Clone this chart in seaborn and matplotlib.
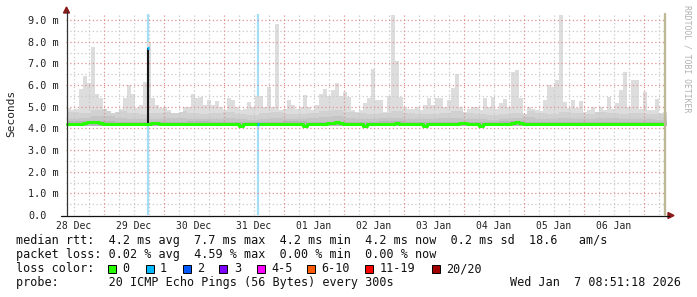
import numpy as np
import pandas as pd
import matplotlib
matplotlib.use("Agg")
import matplotlib.pyplot as plt
from matplotlib.patches import Rectangle, Polygon
from matplotlib.lines import Line2D
import seaborn as sns

# ---------------- data ----------------
day_labels = ["28 Dec", "29 Dec", "30 Dec", "31 Dec", "01 Jan",
              "02 Jan", "03 Jan", "04 Jan", "05 Jan", "06 Jan"]
ytick_values = [0, 1, 2, 3, 4, 5, 6, 7, 8, 9]
ytick_labels = ["0.0", "1.0 m", "2.0 m", "3.0 m", "4.0 m",
                "5.0 m", "6.0 m", "7.0 m", "8.0 m", "9.0 m"]

# smoke: highest ping per 1.6 h bucket (ms)
smoke_top = [
    4.95, 4.85, 4.90, 5.80, 6.40, 6.10, 7.75, 5.60, 5.40, 4.90,
    4.80, 4.70, 4.75, 4.90, 5.40, 6.00, 5.60, 4.95, 5.10, 6.15,
    8.00, 5.40, 5.10, 4.95, 5.00, 4.85, 4.70, 4.70, 4.75, 5.00,
    5.00, 5.60, 5.40, 5.45, 5.10, 5.30, 5.10, 5.25, 5.00, 4.85,
    5.40, 5.30, 5.00, 4.85, 4.90, 5.20, 5.00, 5.50, 5.50, 5.00,
    5.90, 5.00, 8.80, 4.85, 4.90, 5.30, 5.10, 4.90, 5.00, 5.55,
    5.00, 4.85, 5.10, 5.60, 5.80, 5.50, 5.75, 6.10, 5.50, 5.70,
    5.45, 4.85, 4.75, 4.85, 5.15, 5.40, 6.75, 5.30, 5.30, 4.75,
    5.50, 9.25, 7.10, 5.45, 5.00, 4.90, 4.90, 5.00, 4.85, 5.10,
    5.40, 5.10, 5.40, 5.40, 5.00, 5.30, 5.85, 6.50, 5.00, 4.75,
    4.90, 5.00, 5.00, 4.85, 5.40, 5.00, 5.45, 4.90, 5.15, 5.35,
    5.00, 6.60, 6.70, 5.40, 4.65, 5.00, 4.90, 4.85, 4.80, 5.30,
    6.00, 5.90, 6.25, 9.25, 5.20, 4.95, 5.30, 4.95, 5.25, 4.75,
    4.85, 5.00, 4.75, 5.00, 4.85, 5.45, 4.90, 5.15, 5.75, 6.60,
    5.00, 6.25, 6.25, 4.90, 5.70, 4.85, 4.85, 5.35, 4.70, 4.75,
]
# inner smoke layers (coarser buckets, 4.8 h / 9.6 h)
smoke_mid = [
    4.75, 4.70, 4.85, 4.95, 4.80, 4.70, 4.65, 4.70, 4.75, 4.80,
    4.72, 4.68, 4.70, 4.75, 4.65, 4.62, 4.70, 4.75, 4.68, 4.66,
    4.70, 4.80, 4.85, 4.75, 4.70, 4.66, 4.72, 4.78, 4.70, 4.65,
    4.68, 4.72, 4.78, 4.70, 4.65, 4.62, 4.66, 4.72, 4.80, 4.70,
    4.68, 4.74, 4.70, 4.66, 4.76, 4.72, 4.68, 4.70, 4.66, 4.64,
]
smoke_dark = [
    4.45, 4.50, 4.55, 4.58, 4.50, 4.45, 4.42, 4.45, 4.48, 4.50,
    4.45, 4.42, 4.44, 4.48, 4.42, 4.40, 4.45, 4.48, 4.44, 4.42,
    4.46, 4.52, 4.55, 4.48, 4.45, 4.42, 4.46, 4.50, 4.45, 4.42,
    4.44, 4.46, 4.50, 4.45, 4.42, 4.40, 4.42, 4.46, 4.52, 4.45,
    4.44, 4.48, 4.45, 4.42, 4.50, 4.46, 4.44, 4.45, 4.42, 4.40,
]
smoke_darkest = [
    4.32, 4.36, 4.30, 4.28, 4.30, 4.32, 4.30, 4.28, 4.31, 4.33,
    4.30, 4.29, 4.30, 4.32, 4.28, 4.30, 4.31, 4.29, 4.33, 4.30,
    4.28, 4.30, 4.31, 4.29, 4.30,
]
smoke_floor = 4.12

median_rtt = [
    4.20, 4.20, 4.21, 4.22, 4.25, 4.27, 4.30, 4.28, 4.24, 4.21,
    4.20, 4.19, 4.19, 4.19, 4.20, 4.20, 4.20, 4.19, 4.20, 4.21,
    4.20, 4.23, 4.23, 4.22, 4.20, 4.19, 4.19, 4.19, 4.19, 4.20,
    4.20, 4.21, 4.21, 4.20, 4.20, 4.20, 4.19, 4.19, 4.20, 4.20,
    4.20, 4.19, 4.19, 4.10, 4.19, 4.20, 4.20, 4.20, 4.20, 4.20,
    4.20, 4.20, 4.21, 4.20, 4.20, 4.20, 4.20, 4.20, 4.20, 4.12,
    4.20, 4.20, 4.20, 4.21, 4.22, 4.23, 4.25, 4.27, 4.25, 4.21,
    4.20, 4.20, 4.20, 4.20, 4.11, 4.20, 4.20, 4.20, 4.20, 4.21,
    4.21, 4.22, 4.25, 4.21, 4.20, 4.20, 4.20, 4.20, 4.20, 4.12,
    4.20, 4.20, 4.20, 4.20, 4.20, 4.20, 4.21, 4.22, 4.24, 4.25,
    4.21, 4.20, 4.20, 4.10, 4.20, 4.20, 4.20, 4.20, 4.20, 4.20,
    4.21, 4.23, 4.27, 4.26, 4.21, 4.20, 4.20, 4.20, 4.20, 4.20,
    4.20, 4.20, 4.20, 4.21, 4.21, 4.20, 4.20, 4.20, 4.20, 4.20,
    4.20, 4.20, 4.20, 4.20, 4.20, 4.19, 4.19, 4.20, 4.20, 4.20,
    4.20, 4.20, 4.20, 4.20, 4.20, 4.20, 4.20, 4.20, 4.20, 4.20,
]

# packet loss events (days since graph start), median during event (ms)
loss_event_days = [1.367, 3.195]
loss_event_median = [7.7, 4.2]
loss_event_base = [4.2, 4.2]

loss_labels = ["0", "1", "2", "3", "4-5", "6-10", "11-19", "20/20"]
loss_colors = ["#26ff00", "#00b8ff", "#0059ff", "#7e00ff",
               "#ff00ff", "#ff5a00", "#ff0000", "#a10000"]

legend_rtt = "median rtt:  4.2 ms avg  7.7 ms max  4.2 ms min  4.2 ms now  0.2 ms sd  18.6   am/s"
legend_loss = "packet loss: 0.02 % avg  4.59 % max  0.00 % min  0.00 % now"
legend_probe = "probe:       20 ICMP Echo Pings (56 Bytes) every 300s"
legend_date = "Wed Jan  7 08:51:18 2026"
watermark = "RRDTOOL / TOBI OETIKER"

# ---------------- layout ----------------
W, H = 697, 297
X0, X1, Y0, Y1 = 66, 666, 215, 14
YTOP = 9 * (Y0 - Y1) / (Y0 - 20)
FIRST_MIDNIGHT = 0.631   # Dec 29 00:00 relative to start (Dec 28 08:51:18)
T_OFF = 1 / 60
BUCKET = 1 / 15
MONO = "DejaVu Sans Mono"

sns.set_theme(style="white")
plt.rcParams["font.family"] = [MONO, "DejaVu Sans"]

def fx(x):
    return x / W

def fy(y):
    return 1 - y / H

fig = plt.figure(figsize=(W / 100, H / 100), dpi=100)
fig.patch.set_facecolor("white")
ax = fig.add_axes([fx(X0), fy(Y0), (X1 - X0) / W, (Y0 - Y1) / H])
ax.set_facecolor("white")
ax.set_xlim(0, 10)
ax.set_ylim(0, YTOP)
for s in ax.spines.values():
    s.set_visible(False)

n = len(smoke_top)
edges = T_OFF + np.arange(n + 1) * BUCKET
top = np.asarray(smoke_top)
mid = np.minimum(np.repeat(smoke_mid, 3), top)
dark = np.minimum(np.repeat(smoke_dark, 3), mid)
darkest = np.minimum(np.repeat(smoke_darkest, 6), dark)

def stepfill(vals, color, z):
    ax.fill_between(edges, smoke_floor, np.r_[vals, vals[-1]], step="post",
                    color=color, lw=0, zorder=z)

# loss background lines
for d in loss_event_days:
    ax.axvline(d, color="#a3dff6", lw=1.6, zorder=0.5)

stepfill(top, "#dddddd", 1.0)
stepfill(mid, "#d1d1d1", 1.1)
stepfill(dark, "#c5c5c5", 1.2)
stepfill(darkest, "#b6b6b6", 1.3)

# grid
minor_c, major_c = "#c8c8c8", "#e09090"
ls = (0, (1, 2))
for v in np.arange(0.5, YTOP, 0.5):
    if abs(v - round(v)) > 1e-6:
        ax.axhline(v, color=minor_c, lw=0.9, ls=ls, zorder=2)
for v in range(1, 10):
    ax.axhline(v, color=major_c, lw=0.9, ls=ls, zorder=2.1)
for k in range(-4, 44):
    t = FIRST_MIDNIGHT + k * 0.25
    if 0 < t < 10:
        c = major_c if k % 4 == 0 else minor_c
        ax.axvline(t, color=c, lw=0.9, ls=ls, zorder=2.1 if k % 4 == 0 else 2)

# loss spike (dense smoke) and median line
ax.vlines(loss_event_days, loss_event_base, loss_event_median, color="#151515",
          lw=1.5, zorder=3)
df = pd.DataFrame({"t": edges, "rtt": np.r_[median_rtt, median_rtt[-1]]})
sns.lineplot(data=df, x="t", y="rtt", drawstyle="steps-post", color="#26ff00",
             lw=2.2, ax=ax, zorder=4, legend=False)
for d, m in zip(loss_event_days, loss_event_median):
    ax.plot([d - 0.015, d + 0.015], [m, m], color=loss_colors[1], lw=2.2,
            solid_capstyle="butt", zorder=5)

ax.set_xlabel("")
ax.set_ylabel("")
ax.set_xlim(0, 10)
ax.set_ylim(0, YTOP)

# ticks
ax.set_xticks([FIRST_MIDNIGHT - 0.5 + k for k in range(len(day_labels))])
ax.set_xticklabels(day_labels, fontsize=7, family=MONO, color="#222222")
ax.set_yticks(ytick_values)
ax.set_yticklabels(ytick_labels, fontsize=7.3, family=MONO, color="#222222")
ax.tick_params(axis="x", length=0, pad=4)
ax.tick_params(axis="y", length=0, pad=27.4)
for lbl in ax.get_yticklabels():
    lbl.set_horizontalalignment("left")

# axes lines, arrows, frame
axis_c = "#333333"
arrow_c = "#8b1a1a"
fig.add_artist(Line2D([fx(66.5), fx(66.5)], [fy(215), fy(11)], color=axis_c, lw=0.9))
fig.add_artist(Line2D([fx(61), fx(669)], [fy(215.5), fy(215.5)], color="#111111", lw=0.9))
fig.add_artist(Polygon([[fx(63.5), fy(13)], [fx(69.5), fy(13)], [fx(66.5), fy(7)]],
                       closed=True, color=arrow_c, transform=fig.transFigure))
fig.add_artist(Polygon([[fx(668), fy(212.5)], [fx(668), fy(218.5)], [fx(674), fy(215.5)]],
                       closed=True, color=arrow_c, transform=fig.transFigure))
fig.add_artist(Line2D([fx(665), fx(665)], [fy(215), fy(14)], color="#bdb996", lw=1.7))

# labels
fig.text(fx(11), fy(113.5), "Seconds", rotation=90, ha="center", va="center",
         fontsize=8, family=MONO, color="#222222")
fig.text(fx(687), fy(5), watermark, rotation=270, ha="center", va="top",
         fontsize=5.9, family=MONO, color="#b0b0b0")

# legend block
LX = 15.6
txt_kw = dict(ha="left", va="center", fontsize=8.5, family=MONO, color="#111111")
fig.text(fx(LX), fy(240.5), legend_rtt, **txt_kw)
fig.text(fx(LX), fy(254.5), legend_loss, **txt_kw)
fig.text(fx(LX), fy(268.5), "loss color:", **txt_kw)
fig.text(fx(LX), fy(282.5), legend_probe, **txt_kw)
fig.text(fx(681), fy(282.5), legend_date, ha="right", va="center", fontsize=8.5,
         family=MONO, color="#111111")

box_x = [108.0, 145.5, 182.5, 219.4, 257.2, 307.0, 365.0, 431.7]
for bx, lab, col in zip(box_x, loss_labels, loss_colors):
    fig.add_artist(Rectangle((fx(bx), fy(272.5)), 8 / W, 8 / H, facecolor=col,
                             edgecolor="#000000", lw=0.7, transform=fig.transFigure))
    fig.text(fx(bx + 14.4), fy(268.5), lab, **txt_kw)

fig.savefig("out.png", dpi=100, facecolor="white")
